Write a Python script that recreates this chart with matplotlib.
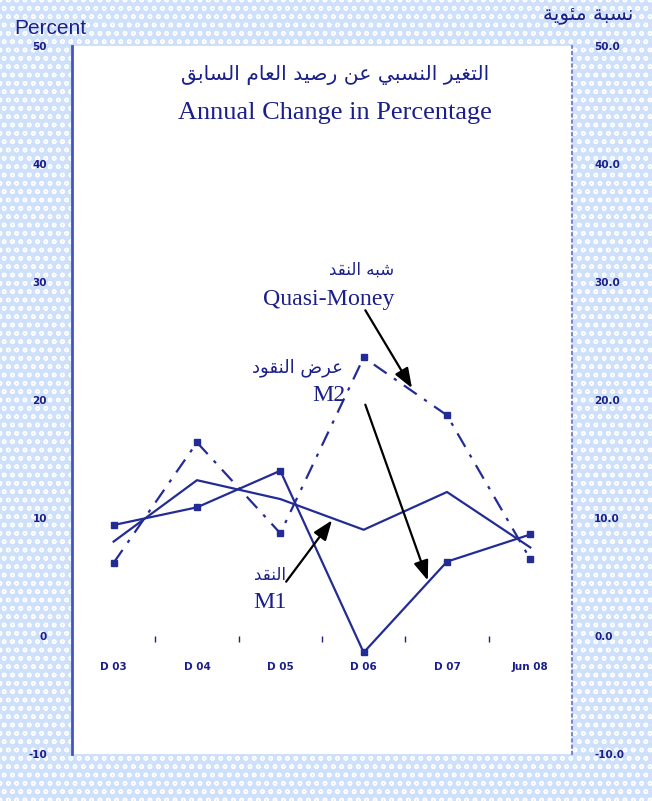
# -*- coding: utf-8 -*-
import matplotlib
matplotlib.use('Agg')
import matplotlib.pyplot as plt
from matplotlib.patches import Rectangle

# data
periods = ['D 03', 'D 04', 'D 05', 'D 06', 'D 07', 'Jun 08']
m2 = [9.4, 10.9, 14.0, -1.4, 6.3, 8.6]
m1 = [8.0, 13.2, 11.6, 9.0, 12.2, 7.5]
quasi = [6.2, 16.4, 8.7, 23.6, 18.7, 6.5]
yticks = [-10, 0, 10, 20, 30, 40, 50]
left_labels = ['-10', '0', '10', '20', '30', '40', '50']
right_labels = ['-10.0', '0.0', '10.0', '20.0', '30.0', '40.0', '50.0']

# simple arabic shaping (matplotlib has no shaping / bidi)
FORMS = {
    'ا': ('\uFE8D', '\uFE8E', None, None),
    'ب': ('\uFE8F', '\uFE90', '\uFE91', '\uFE92'),
    'ة': ('\uFE93', '\uFE94', None, None),
    'ت': ('\uFE95', '\uFE96', '\uFE97', '\uFE98'),
    'د': ('\uFEA9', '\uFEAA', None, None),
    'ر': ('\uFEAD', '\uFEAE', None, None),
    'س': ('\uFEB1', '\uFEB2', '\uFEB3', '\uFEB4'),
    'ش': ('\uFEB5', '\uFEB6', '\uFEB7', '\uFEB8'),
    'ص': ('\uFEB9', '\uFEBA', '\uFEBB', '\uFEBC'),
    'ض': ('\uFEBD', '\uFEBE', '\uFEBF', '\uFEC0'),
    'ع': ('\uFEC9', '\uFECA', '\uFECB', '\uFECC'),
    'غ': ('\uFECD', '\uFECE', '\uFECF', '\uFED0'),
    'ق': ('\uFED5', '\uFED6', '\uFED7', '\uFED8'),
    'ل': ('\uFEDD', '\uFEDE', '\uFEDF', '\uFEE0'),
    'م': ('\uFEE1', '\uFEE2', '\uFEE3', '\uFEE4'),
    'ن': ('\uFEE5', '\uFEE6', '\uFEE7', '\uFEE8'),
    'ه': ('\uFEE9', '\uFEEA', '\uFEEB', '\uFEEC'),
    'و': ('\uFEED', '\uFEEE', None, None),
    'ي': ('\uFEF1', '\uFEF2', '\uFEF3', '\uFEF4'),
    'ئ': ('\uFE89', '\uFE8A', '\uFE8B', '\uFE8C'),
}

def ar(text):
    out = []
    for i, ch in enumerate(text):
        f = FORMS.get(ch)
        if f is None:
            out.append(ch)
            continue
        prev = text[i - 1] if i > 0 else ''
        nxt = text[i + 1] if i + 1 < len(text) else ''
        jp = prev in FORMS and FORMS[prev][2] is not None
        jn = f[2] is not None and nxt in FORMS
        if jp and jn:
            out.append(f[3])
        elif jp:
            out.append(f[1])
        elif jn:
            out.append(f[2])
        else:
            out.append(f[0])
    return ''.join(reversed(out))

navy = '#1b1f8a'
linec = '#232c94'

fig = plt.figure(figsize=(6.52, 8.01), dpi=100)
fig.patch.set_facecolor('#cfe1fa')
fig.patches.append(Rectangle((0, 0), 1, 1, transform=fig.transFigure, fill=False,
                             hatch='oo', edgecolor='white', linewidth=0, zorder=-10))

ax = fig.add_axes([0.1104, 0.0587, 0.7669, 0.884])
ax.set_facecolor('white')
x = list(range(len(periods)))

ax.plot(x, m2, '-', color=linec, lw=1.6, marker='s', ms=4)
ax.plot(x, m1, '-', color=linec, lw=1.6)
ax.plot(x, quasi, color=linec, lw=1.6, marker='s', ms=4, dashes=(7, 4, 1.5, 4))

ax.set_xlim(-0.5, 5.5)
ax.set_ylim(-10, 50)

# spines
for s in ['top', 'bottom']:
    ax.spines[s].set_visible(False)
ax.spines['left'].set_color('#4455c0')
ax.spines['left'].set_linewidth(2)
ax.spines['right'].set_color('#8088c8')
ax.spines['right'].set_linestyle((0, (1, 2)))
ax.spines['right'].set_linewidth(1.5)

# x axis on the zero line
ax.spines['bottom'].set_position(('data', 0))
ax.set_xticks(x)
ax.set_xticklabels(periods, fontsize=7.5, fontweight='bold', color=navy)
ax.set_xticks([i + 0.5 for i in x[:-1]], minor=True)
ax.tick_params(axis='x', which='major', length=0, pad=19)
ax.tick_params(axis='x', which='minor', length=4, width=1, color=navy, direction='out')

ax.set_yticks(yticks)
ax.set_yticklabels(left_labels, fontsize=7.5, fontweight='bold', color=navy)
ax.tick_params(axis='y', length=0, pad=18)

ax2 = ax.twinx()
ax2.set_ylim(-10, 50)
ax2.set_yticks(yticks)
ax2.set_yticklabels(right_labels, fontsize=7.5, fontweight='bold', color=navy)
ax2.tick_params(axis='y', length=0, pad=16)
for s in ax2.spines.values():
    s.set_visible(False)

# titles
ax.text(0.526, 0.959, ar('التغير النسبي عن رصيد العام السابق'), transform=ax.transAxes,
        ha='center', va='center', fontsize=14.6, family='DejaVu Sans', color=navy)
ax.text(0.526, 0.905, 'Annual Change in Percentage', transform=ax.transAxes,
        ha='center', va='center', fontsize=19, family='Liberation Serif', color=navy)

fig.text(14 / 652, 1 - 28 / 801, 'Percent', ha='left', va='center', fontsize=15,
         family='Liberation Sans', color=navy)
fig.text(633 / 652, 1 - 15 / 801, ar('نسبة مئوية'), ha='right', va='center', fontsize=14.4,
         family='DejaVu Sans', color=navy)

# series labels and arrows
serif = 'Liberation Serif'
ax.text(3.37, 31.0, ar('شبه النقد'), ha='right', va='center', fontsize=12,
        family='DejaVu Sans', color=navy)
ax.text(3.37, 28.5, 'Quasi-Money', ha='right', va='center', fontsize=17.2, family=serif, color=navy)
ax.text(2.75, 22.7, ar('عرض النقود'), ha='right', va='center', fontsize=13,
        family='DejaVu Sans', color=navy)
ax.text(2.78, 20.4, 'M2', ha='right', va='center', fontsize=17.2, family=serif, color=navy)
ax.text(2.07, 5.2, ar('النقد'), ha='right', va='center', fontsize=12,
        family='DejaVu Sans', color=navy)
ax.text(2.08, 2.8, 'M1', ha='right', va='center', fontsize=17.2, family=serif, color=navy)

arrow = dict(arrowstyle='-|>,head_length=1.2,head_width=0.45', color='black', lw=1.6,
             shrinkA=0, shrinkB=0)
ax.annotate('', xy=(3.58, 21.0), xytext=(3.02, 27.6), arrowprops=arrow)
ax.annotate('', xy=(3.77, 4.7), xytext=(3.02, 19.6), arrowprops=arrow)
ax.annotate('', xy=(2.62, 9.8), xytext=(2.07, 4.6), arrowprops=arrow)

fig.savefig('out.png', dpi=100, facecolor=fig.get_facecolor())
